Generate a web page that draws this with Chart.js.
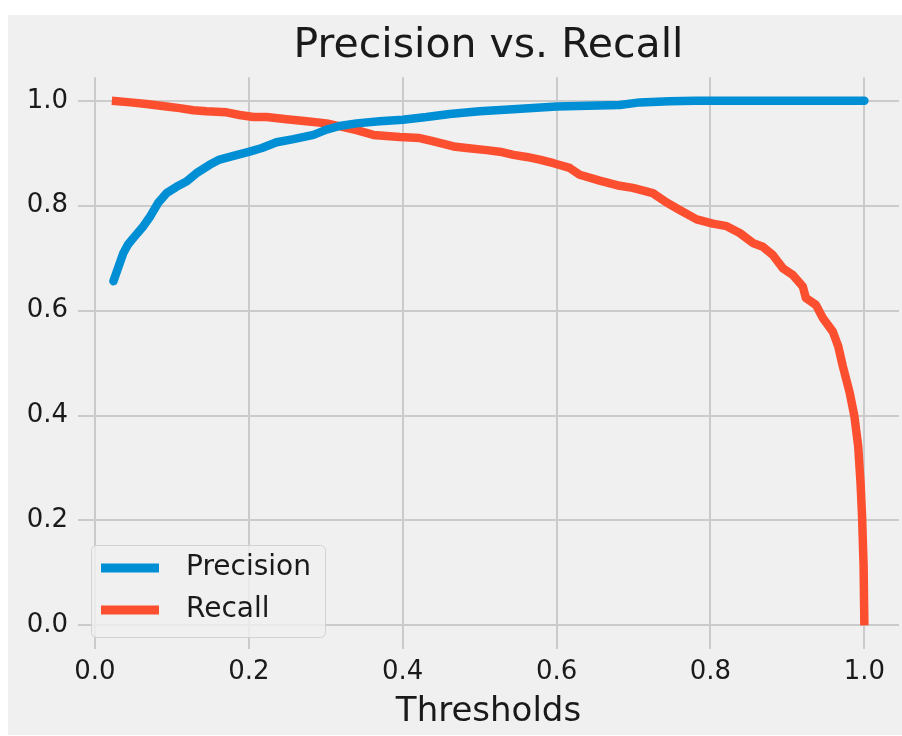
<!DOCTYPE html>
<html>
<head>
<meta charset="utf-8">
<script src="https://cdn.jsdelivr.net/npm/chart.js@4.4.1/dist/chart.umd.min.js"></script>
<style>
  body { margin: 0; background: #ffffff; }
  canvas { display: block; }
</style>
</head>
<body>
<canvas id="prChart" width="902" height="736"></canvas>
<script>
// Threshold sweep readings for each curve
var precisionThresholds = [0.024, 0.037, 0.043, 0.052, 0.063, 0.072, 0.082, 0.093, 0.106, 0.119,
                           0.132, 0.149, 0.162, 0.180, 0.201, 0.217, 0.236, 0.258, 0.284, 0.301,
                           0.318, 0.340, 0.370, 0.400, 0.431, 0.461, 0.500, 0.543, 0.600, 0.682,
                           0.708, 0.747, 0.780, 0.850, 0.920, 1.000];
var precisionValues     = [0.656, 0.710, 0.726, 0.742, 0.761, 0.780, 0.805, 0.824, 0.836, 0.846,
                           0.862, 0.878, 0.888, 0.895, 0.903, 0.910, 0.921, 0.927, 0.935, 0.945,
                           0.952, 0.957, 0.961, 0.964, 0.969, 0.975, 0.980, 0.984, 0.989, 0.992,
                           0.997, 0.999, 1.000, 1.000, 1.000, 1.000];

var recallThresholds = [0.022, 0.046, 0.067, 0.093, 0.110, 0.128, 0.145, 0.171, 0.188, 0.206,
                        0.223, 0.249, 0.275, 0.301, 0.323, 0.340, 0.362, 0.396, 0.422, 0.439,
                        0.466, 0.483, 0.509, 0.526, 0.544, 0.561, 0.578, 0.596, 0.617, 0.630,
                        0.656, 0.682, 0.699, 0.725, 0.743, 0.760, 0.782, 0.803, 0.821, 0.838,
                        0.855, 0.868, 0.881, 0.894, 0.907, 0.920, 0.924, 0.937, 0.946, 0.959,
                        0.966, 0.972, 0.981, 0.987, 0.992, 0.995, 0.997, 0.999, 1.000];
var recallValues     = [1.000, 0.997, 0.994, 0.989, 0.986, 0.982, 0.980, 0.978, 0.973, 0.969,
                        0.969, 0.965, 0.961, 0.957, 0.950, 0.944, 0.935, 0.931, 0.929, 0.923,
                        0.913, 0.910, 0.906, 0.903, 0.897, 0.893, 0.888, 0.881, 0.872, 0.859,
                        0.848, 0.838, 0.834, 0.824, 0.806, 0.792, 0.774, 0.766, 0.761, 0.748,
                        0.729, 0.722, 0.706, 0.681, 0.668, 0.646, 0.624, 0.611, 0.586, 0.560,
                        0.532, 0.494, 0.443, 0.399, 0.341, 0.272, 0.208, 0.113, 0.000];

var tickValues = [0.0, 0.2, 0.4, 0.6, 0.8, 1.0];

function toPoints(xs, ys) {
  return xs.map(function(x, i) { return { x: x, y: ys[i] }; });
}

Chart.defaults.font.family = "'DejaVu Sans', sans-serif";
Chart.defaults.color = '#1a1a1a';

// Figure background: white border with the grey panel
var figureBackground = {
  id: 'figureBackground',
  beforeDraw: function(chart) {
    var c = chart.ctx;
    c.save();
    c.fillStyle = '#ffffff';
    c.fillRect(0, 0, chart.width, chart.height);
    c.fillStyle = '#f0f0f0';
    c.fillRect(8, 15, chart.width - 8, 720);
    c.restore();
  }
};

// Legend box in the lower-left corner of the plot area
var cornerLegend = {
  id: 'cornerLegend',
  afterDatasetsDraw: function(chart) {
    var c = chart.ctx;
    var sets = chart.data.datasets;
    c.save();
    c.beginPath();
    c.roundRect(91.5, 545.5, 234, 92, 5);
    c.fillStyle = 'rgba(240,240,240,0.8)';
    c.fill();
    c.strokeStyle = 'rgba(204,204,204,0.8)';
    c.lineWidth = 1;
    c.stroke();
    c.font = "28px 'DejaVu Sans'";
    c.textBaseline = 'middle';
    sets.forEach(function(ds, i) {
      var y = 568 + i * 42;
      c.beginPath();
      c.moveTo(101, y);
      c.lineTo(159, y);
      c.strokeStyle = ds.borderColor;
      c.lineWidth = 9;
      c.lineCap = 'butt';
      c.stroke();
      c.fillStyle = '#1a1a1a';
      c.fillText(ds.label, 186, y);
    });
    c.restore();
  }
};

var ctx = document.getElementById('prChart').getContext('2d');

var prChart = new Chart(ctx, {
  type: 'line',
  data: {
    datasets: [{
      label: 'Precision',
      data: toPoints(precisionThresholds, precisionValues),
      borderColor: '#008fd5',
      borderWidth: 8.5,
      borderCapStyle: 'round',
      borderJoinStyle: 'round',
      pointRadius: 0,
      tension: 0
    }, {
      label: 'Recall',
      data: toPoints(recallThresholds, recallValues),
      borderColor: '#fc4f30',
      borderWidth: 8.5,
      borderCapStyle: 'butt',
      borderJoinStyle: 'round',
      pointRadius: 0,
      tension: 0
    }]
  },
  options: {
    responsive: false,
    animation: false,
    layout: { padding: { left: 0, right: 3, top: 0, bottom: 0 } },
    plugins: {
      legend: { display: false },
      tooltip: { enabled: false },
      title: {
        display: true,
        text: 'Precision vs. Recall',
        fullSize: false,
        font: { size: 41, weight: 'normal' },
        color: '#1a1a1a',
        padding: { top: 22, bottom: 6 }
      }
    },
    scales: {
      x: {
        type: 'linear',
        min: -0.022,
        max: 1.045,
        afterBuildTicks: function(scale) {
          scale.ticks = tickValues.map(function(v) { return { value: v }; });
        },
        afterFit: function(scale) { scale.height = 87; },
        ticks: {
          font: { size: 26 },
          padding: 8,
          maxRotation: 0,
          autoSkip: false,
          callback: function(v) { return v.toFixed(1); }
        },
        grid: { color: '#cbcbcb', lineWidth: 2, drawTicks: false },
        border: { display: false },
        title: {
          display: true,
          text: 'Thresholds',
          font: { size: 34 },
          padding: { top: 0, bottom: 3 }
        }
      },
      y: {
        type: 'linear',
        min: -0.045,
        max: 1.045,
        afterBuildTicks: function(scale) {
          scale.ticks = tickValues.map(function(v) { return { value: v }; });
        },
        afterFit: function(scale) { scale.width = 78; },
        ticks: {
          font: { size: 26 },
          padding: 10,
          autoSkip: false,
          callback: function(v) { return v.toFixed(1); }
        },
        grid: { color: '#cbcbcb', lineWidth: 2, drawTicks: false },
        border: { display: false }
      }
    }
  },
  plugins: [figureBackground, cornerLegend]
});
</script>
</body>
</html>
